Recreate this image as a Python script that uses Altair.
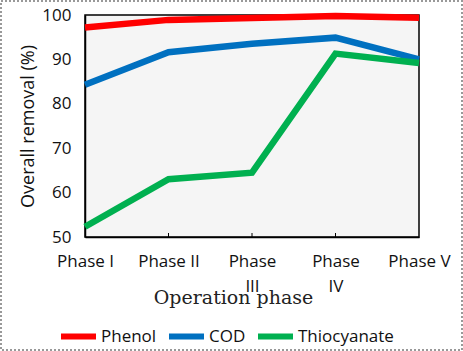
import altair as alt
import pandas as pd

phases = ["Phase I", "Phase II", "Phase III", "Phase IV", "Phase V"]
phenol = [97.2, 98.9, 99.3, 99.8, 99.4]
cod = [84.3, 91.6, 93.5, 94.9, 90.0]
thiocyanate = [52.3, 63.0, 64.5, 91.3, 89.2]
series = ["Phenol", "COD", "Thiocyanate"]
colors = ["#ff0000", "#0070c0", "#00b050"]

rows = []
for name, vals in zip(series, [phenol, cod, thiocyanate]):
    for p, v in zip(phases, vals):
        rows.append({"phase": p, "value": v, "series": name})
df = pd.DataFrame(rows)

tick_df = pd.DataFrame({"phase": phases[1:-1], "y0": [50] * 3, "y1": [50.9] * 3})

W, H = 334, 222
L, T = 85, 15

x_enc = alt.X(
    "phase:N", sort=phases, scale=alt.Scale(type="point", padding=0, domain=phases),
    axis=alt.Axis(
        title="Operation phase", titleFont="DejaVu Serif", titleFontSize=19,
        titleFontWeight="normal", titleColor="#222", titlePadding=-6, titleX=148,
        labelFont="Open Sans", labelFontSize=17, labelColor="#111", labelAngle=0,
        labelPadding=16, ticks=False, domainColor="black", domainWidth=1.5,
        labelExpr="datum.label == 'Phase III' ? ['Phase', 'III'] : datum.label == 'Phase IV' ? ['Phase', 'IV'] : datum.label",
        labelLineHeight=25,
    ),
)

lines = alt.Chart(df).mark_line(strokeWidth=6.5, strokeCap="butt").encode(
    x=x_enc,
    y=alt.Y("value:Q", scale=alt.Scale(domain=[50, 100], nice=False),
            axis=alt.Axis(title="Overall removal (%)", titleFont="Open Sans", titleFontSize=18,
                          titleFontWeight="normal", titleColor="#111", titlePadding=4,
                          labelFont="Open Sans", labelFontSize=17, labelColor="#111",
                          values=[50, 60, 70, 80, 90, 100], ticks=False, grid=False,
                          domainColor="black", domainWidth=1.5, labelPadding=14)),
    color=alt.Color("series:N", sort=series,
                    scale=alt.Scale(domain=series, range=colors),
                    legend=alt.Legend(title=None, orient="none", direction="horizontal",
                                      legendX=-27, legendY=301, symbolType="stroke",
                                      symbolStrokeWidth=6, symbolSize=1225,
                                      labelFont="Open Sans", labelFontSize=17,
                                      labelColor="#111", columnPadding=0, labelOffset=2,
                                      gridAlign="none")),
)

ticks = alt.Chart(tick_df).mark_rule(color="black", strokeWidth=1).encode(
    x=alt.X("phase:N", sort=phases), y="y0:Q", y2="y1:Q"
)

frame = alt.Chart(pd.DataFrame({"a": [0]})).mark_rect(
    fill=None, stroke="#999999", strokeWidth=2, strokeDash=[2, 2]
).encode(
    x=alt.value(-L + 1), x2=alt.value(463 - L - 1), y=alt.value(-T + 1), y2=alt.value(351 - T - 1)
)

chart = alt.layer(lines, ticks, frame).properties(
    width=W, height=H,
    padding={"left": L, "top": T, "right": 463 - L - W, "bottom": 351 - T - H},
    autosize=alt.AutoSizeParams(type="none"),
    background="white",
).configure_view(
    fill="#f5f5f5", stroke="black", strokeWidth=1.5
)

chart.save("out.html", embed_options={"renderer": "svg", "actions": False})
